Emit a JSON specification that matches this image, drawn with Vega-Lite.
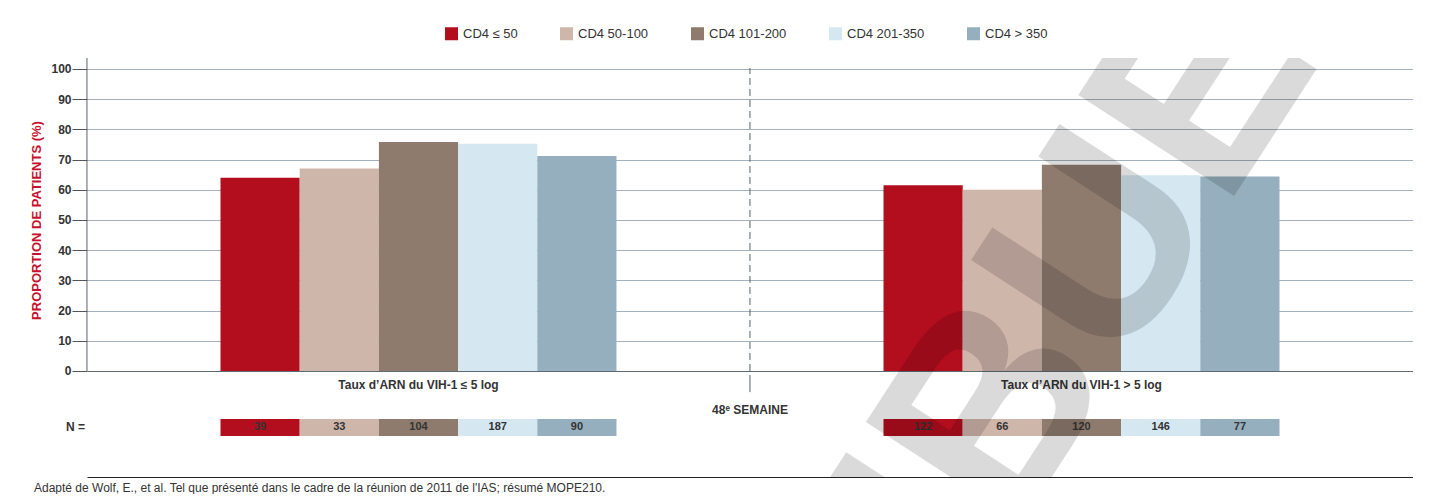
{
  "$schema": "https://vega.github.io/schema/vega-lite/v6.json",
  "width": 1326,
  "height": 419,
  "padding": {"left": 30, "top": 27, "right": 0, "bottom": 0},
  "background": "white",
  "config": {"font": "Liberation Sans", "view": {"stroke": null}},
  "title": {"text": "Adapté de Wolf, E., et al. Tel que présenté dans le cadre de la réunion de 2011 de l'IAS; résumé MOPE210.", "orient": "bottom", "anchor": "start", "frame": "bounds", "fontSize": 12, "fontWeight": "normal", "color": "#333333", "offset": 6, "dx": 4},
  "data": {"values": [
    {"group": "Taux d’ARN du VIH-1 ≤ 5 log", "cd4": "CD4 ≤ 50", "pct": 64, "n": 39},
    {"group": "Taux d’ARN du VIH-1 ≤ 5 log", "cd4": "CD4 50-100", "pct": 67, "n": 33},
    {"group": "Taux d’ARN du VIH-1 ≤ 5 log", "cd4": "CD4 101-200", "pct": 75.8, "n": 104},
    {"group": "Taux d’ARN du VIH-1 ≤ 5 log", "cd4": "CD4 201-350", "pct": 75.2, "n": 187},
    {"group": "Taux d’ARN du VIH-1 ≤ 5 log", "cd4": "CD4 > 350", "pct": 71.2, "n": 90},
    {"group": "Taux d’ARN du VIH-1 > 5 log", "cd4": "CD4 ≤ 50", "pct": 61.5, "n": 122},
    {"group": "Taux d’ARN du VIH-1 > 5 log", "cd4": "CD4 50-100", "pct": 60, "n": 66},
    {"group": "Taux d’ARN du VIH-1 > 5 log", "cd4": "CD4 101-200", "pct": 68.3, "n": 120},
    {"group": "Taux d’ARN du VIH-1 > 5 log", "cd4": "CD4 201-350", "pct": 64.8, "n": 146},
    {"group": "Taux d’ARN du VIH-1 > 5 log", "cd4": "CD4 > 350", "pct": 64.4, "n": 77}
  ]},
  "layer": [
    {
      "mark": {"type": "bar"},
      "encoding": {
        "x": {"field": "group", "type": "nominal", "title": null, "sort": null, "scale": {"domain": ["Taux d’ARN du VIH-1 ≤ 5 log", "Taux d’ARN du VIH-1 > 5 log"], "paddingInner": 0.1638, "paddingOuter": 0.0819}, "axis": {"labels": false, "ticks": false, "domain": true, "domainColor": "#222222", "domainWidth": 1, "grid": false, "title": null}},
        "xOffset": {"field": "cd4", "type": "nominal", "sort": null, "scale": {"domain": ["CD4 ≤ 50", "CD4 50-100", "CD4 101-200", "CD4 201-350", "CD4 > 350"], "paddingInner": 0, "paddingOuter": 1}},
        "y": {"field": "pct", "type": "quantitative", "title": "PROPORTION DE PATIENTS (%)", "scale": {"domain": [-35.1, 103.6], "nice": false, "zero": false}, "axis": {"values": [0, 10, 20, 30, 40, 50, 60, 70, 80, 90, 100], "title": "PROPORTION DE PATIENTS (%)", "titleColor": "#c8102e", "titleFontSize": 13, "titleFontWeight": "bold", "titleX": -51, "titleY": 162, "titleAngle": -90, "titleBaseline": "middle", "titleAlign": "center", "domain": false, "grid": true, "gridColor": {"condition": {"test": "datum.value === 0", "value": "#5d6a74"}, "value": "#a2b1bd"}, "gridWidth": 1, "tickColor": "#555555", "tickSize": 15, "labelFontSize": 12, "labelFontWeight": "bold", "labelColor": "#333333", "labelPadding": 1}},
        "color": {"field": "cd4", "type": "nominal", "sort": null, "scale": {"domain": ["CD4 ≤ 50", "CD4 50-100", "CD4 101-200", "CD4 201-350", "CD4 > 350"], "range": ["#b30e1d", "#cfb6ab", "#8e7b6e", "#d5e8f2", "#95afbe"]}, "legend": {"orient": "none", "legendX": 358, "legendY": -31, "direction": "horizontal", "title": null, "symbolType": "square", "symbolSize": 169, "symbolStrokeWidth": 0, "symbolOpacity": 1, "labelFontSize": 13, "labelColor": "#333333", "labelOffset": 5, "columnPadding": 42, "padding": 0}}
      }
    },
    {
      "mark": {"type": "bar"},
      "encoding": {
        "x": {"field": "group", "type": "nominal", "title": null, "sort": null},
        "xOffset": {"field": "cd4", "type": "nominal", "sort": null},
        "y": {"datum": -15.9, "type": "quantitative", "title": null},
        "y2": {"datum": -21.5},
        "color": {"field": "cd4", "type": "nominal", "sort": null, "legend": null}
      }
    },
    {
      "mark": {"type": "text", "fontSize": 11, "fontWeight": "bold", "color": "#333333", "baseline": "middle"},
      "encoding": {
        "x": {"field": "group", "type": "nominal", "title": null, "sort": null},
        "xOffset": {"field": "cd4", "type": "nominal", "sort": null},
        "y": {"datum": -18.7, "type": "quantitative", "title": null},
        "text": {"field": "n", "type": "nominal"}
      }
    },
    {
      "transform": [{"filter": "datum.cd4 === 'CD4 ≤ 50'"}],
      "mark": {"type": "text", "fontSize": 12, "fontWeight": "bold", "color": "#333333", "baseline": "middle"},
      "encoding": {
        "x": {"field": "group", "type": "nominal", "title": null, "sort": null},
        "y": {"datum": -4.6, "type": "quantitative", "title": null},
        "text": {"field": "group", "type": "nominal"}
      }
    },
    {
      "data": {"values": [{"label": "48ᵉ SEMAINE"}]},
      "mark": {"type": "text", "fontSize": 12, "fontWeight": "bold", "color": "#333333", "baseline": "middle"},
      "encoding": {
        "x": {"datum": "Taux d’ARN du VIH-1 > 5 log", "type": "nominal", "bandPosition": -0.098, "title": null},
        "y": {"datum": -12.9, "type": "quantitative", "title": null},
        "text": {"field": "label", "type": "nominal"}
      }
    },
    {
      "data": {"values": [{"label": "N ="}]},
      "mark": {"type": "text", "fontSize": 12, "fontWeight": "bold", "color": "#333333", "baseline": "middle", "align": "right", "dx": -2},
      "encoding": {
        "x": {"datum": "Taux d’ARN du VIH-1 ≤ 5 log", "type": "nominal", "bandPosition": -0.098, "title": null},
        "y": {"datum": -18.7, "type": "quantitative", "title": null},
        "text": {"field": "label", "type": "nominal"}
      }
    },
    {
      "data": {"values": [{"k": 1}]},
      "mark": {"type": "rule", "color": "#55626d", "strokeWidth": 1, "strokeDash": [7, 4]},
      "encoding": {
        "x": {"datum": "Taux d’ARN du VIH-1 > 5 log", "type": "nominal", "bandPosition": -0.098, "title": null},
        "y": {"datum": 0, "type": "quantitative", "title": null},
        "y2": {"datum": 100.3}
      }
    },
    {
      "data": {"values": [{"k": 1}]},
      "mark": {"type": "rule", "color": "#55626d", "strokeWidth": 1},
      "encoding": {
        "x": {"datum": "Taux d’ARN du VIH-1 > 5 log", "type": "nominal", "bandPosition": -0.098, "title": null},
        "y": {"datum": -1.3, "type": "quantitative", "title": null},
        "y2": {"datum": -7}
      }
    },
    {
      "data": {"values": [{"k": 1}]},
      "mark": {"type": "rule", "color": "#56626c", "strokeWidth": 1},
      "encoding": {
        "x": {"datum": "Taux d’ARN du VIH-1 ≤ 5 log", "type": "nominal", "bandPosition": -0.098, "title": null},
        "y": {"datum": 0, "type": "quantitative", "title": null},
        "y2": {"datum": 103.6}
      }
    },
    {
      "data": {"values": [{"label": "NE PAS DISTRIBUER"}]},
      "mark": {"type": "text", "clip": true, "fontSize": 270, "fontWeight": "bold", "color": "#000000", "opacity": 0.14, "angle": -57, "align": "right", "baseline": "alphabetic"},
      "encoding": {
        "x": {"datum": "Taux d’ARN du VIH-1 > 5 log", "type": "nominal", "bandPosition": 1.126, "title": null},
        "y": {"datum": 157, "type": "quantitative", "title": null},
        "text": {"field": "label", "type": "nominal"}
      }
    }
  ]
}
